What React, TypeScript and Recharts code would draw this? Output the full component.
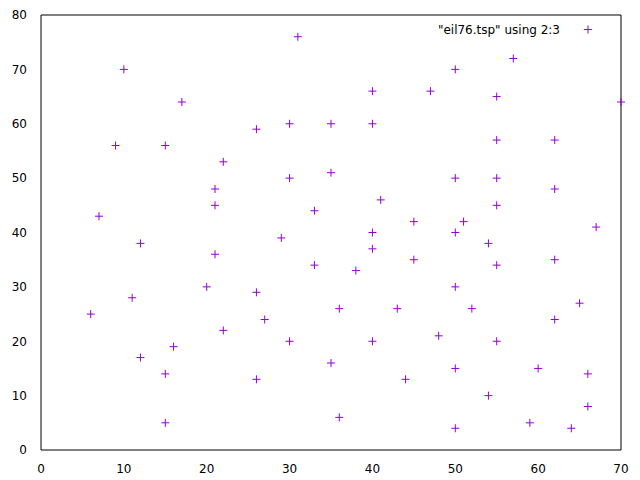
import React from "react";
import { ScatterChart, Scatter, XAxis, YAxis } from "recharts";

// eil76 city coordinates
const xs = [22, 36, 21, 45, 55, 33, 50, 55, 26, 40, 55, 35, 62, 62, 62, 21, 33, 9, 62, 66, 44, 26, 11, 7, 17, 41, 55, 35, 52, 43, 31, 22, 26, 50, 55, 54, 60, 47, 30, 30, 12, 15, 16, 21, 50, 51, 50, 48, 12, 15, 29, 54, 55, 67, 10, 6, 65, 40, 70, 64, 36, 30, 20, 15, 50, 57, 45, 38, 50, 66, 59, 35, 27, 40, 40, 40];
const ys = [22, 26, 45, 35, 20, 34, 50, 45, 59, 66, 65, 51, 35, 57, 24, 36, 44, 56, 48, 14, 13, 13, 28, 43, 64, 46, 34, 16, 26, 26, 76, 53, 29, 40, 50, 10, 15, 66, 60, 50, 17, 14, 19, 48, 30, 42, 15, 21, 38, 56, 39, 38, 57, 41, 70, 25, 27, 60, 64, 4, 6, 20, 30, 5, 70, 72, 42, 33, 4, 8, 5, 60, 24, 20, 37, 40];
const xTicks = [0, 10, 20, 30, 40, 50, 60, 70];
const yTicks = [0, 10, 20, 30, 40, 50, 60, 70, 80];

const points = xs.map((x, i) => ({ x, y: ys[i] }));
const COLOR = "#9400d3";
const font = "DejaVu Sans, sans-serif";

function Plus(props: any) {
  const { cx, cy } = props;
  return (
    <g stroke={COLOR} strokeWidth={1}>
      <line x1={cx - 4} x2={cx + 4} y1={cy} y2={cy} />
      <line x1={cx} x2={cx} y1={cy - 4} y2={cy + 4} />
    </g>
  );
}

export default function App() {
  const tick = { fontSize: 12, fill: "#000", fontFamily: font };
  return (
    <div style={{ position: "absolute", left: 0, top: 0, width: 640, height: 480, background: "#fff" }}>
      <ScatterChart width={640} height={480} margin={{ top: 15, right: 19, bottom: 0, left: 0 }}>
        <XAxis xAxisId="b" dataKey="x" type="number" domain={[0, 70]} ticks={xTicks} height={30}
          stroke="#000" tickLine={false} tick={tick} tickMargin={8} />
        <XAxis xAxisId="t" orientation="top" type="number" domain={[0, 70]} ticks={xTicks} height={1}
          mirror stroke="#000" tickSize={6} tick={{ fill: "none", fontSize: 1 }} />
        <YAxis yAxisId="l" dataKey="y" type="number" domain={[0, 80]} ticks={yTicks} width={41}
          stroke="#000" tickLine={false} tick={tick} tickMargin={8} />
        <YAxis yAxisId="r" orientation="right" type="number" domain={[0, 80]} ticks={yTicks} width={1}
          mirror stroke="#000" tickSize={6} tick={{ fill: "none", fontSize: 1 }} />
        <Scatter xAxisId="b" yAxisId="l" data={points} shape={<Plus />} isAnimationActive={false} />
      </ScatterChart>
      <svg width={640} height={480} style={{ position: "absolute", left: 0, top: 0, pointerEvents: "none" }}>
        <text x={560} y={34} textAnchor="end" fontSize={12} fontFamily={font}>"eil76.tsp" using 2:3</text>
        <line x1={584} x2={592} y1={29.5} y2={29.5} stroke={COLOR} />
        <line x1={588} x2={588} y1={25.5} y2={33.5} stroke={COLOR} />
      </svg>
    </div>
  );
}
